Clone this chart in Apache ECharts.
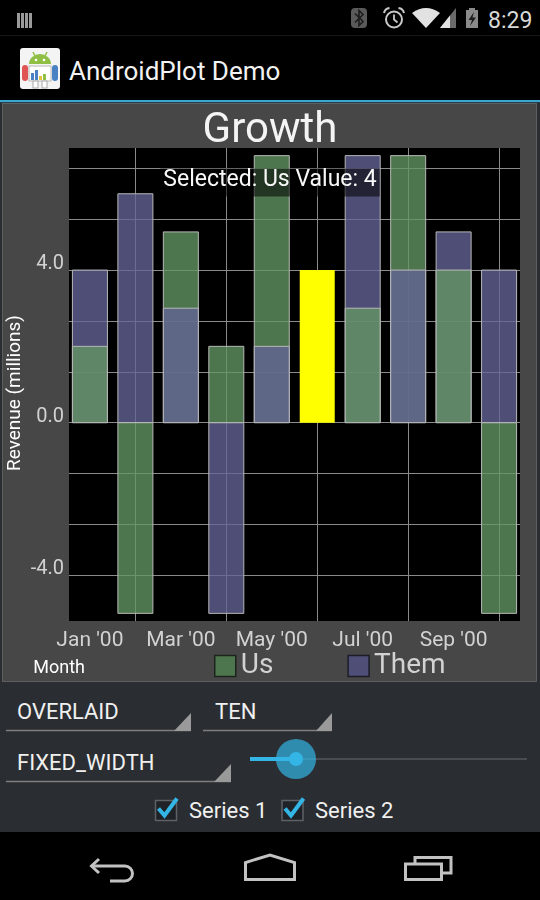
<!DOCTYPE html>
<html>
<head>
<meta charset="utf-8">
<script src="https://cdn.jsdelivr.net/npm/echarts@6/dist/echarts.min.js"></script>
<style>
html,body{margin:0;padding:0;background:#000;width:540px;height:900px;overflow:hidden;font-family:Roboto,'Noto Sans',sans-serif;}
#chrome{position:absolute;left:0;top:0;z-index:1;}
#chart{position:absolute;left:0;top:0;width:540px;height:900px;z-index:2;}
</style>
</head>
<body>
<svg id="chrome" width="540" height="900" xmlns="http://www.w3.org/2000/svg" font-family="Roboto, 'Noto Sans', sans-serif">
  <!-- status bar -->
  <rect x="0" y="0" width="540" height="100" fill="#000"/>
  <g fill="#9a9a9a">
    <rect x="17" y="13" width="3" height="15"/>
    <rect x="21" y="13" width="3" height="15"/>
    <rect x="25" y="13" width="3" height="15"/>
    <rect x="29" y="13" width="3" height="15"/>
  </g>
  <line x1="0" y1="35.5" x2="540" y2="35.5" stroke="#161616"/>
  <rect x="351" y="8" width="16" height="20" rx="4" fill="#5a5a5a"/>
  <path d="M355 13.5 L363 21.5 L359 25.5 V10.5 L363 14.5 L355 22.5" fill="none" stroke="#1c1c1c" stroke-width="1.6"/>
  <circle cx="394" cy="19.5" r="8" fill="none" stroke="#c8c8c8" stroke-width="2"/>
  <path d="M394 14.5 V19.5 L397.5 22.5" fill="none" stroke="#c8c8c8" stroke-width="1.8"/>
  <path d="M384 13 Q385 8.5 389.5 8" fill="none" stroke="#c8c8c8" stroke-width="2"/>
  <path d="M404 13 Q403 8.5 398.5 8" fill="none" stroke="#c8c8c8" stroke-width="2"/>
  <path d="M426 28 L412 13 Q426 3 440 13 Z" fill="#e2e2e2"/>
  <path d="M440 28 L456 8 V28 Z" fill="#6a6a6a"/>
  <path d="M440 28 L450 15.5 V28 Z" fill="#e2e2e2"/>
  <rect x="466" y="10" width="12" height="18" fill="#8a8a8a"/>
  <rect x="469" y="8" width="6" height="2" fill="#8a8a8a"/>
  <path d="M474 12 L468.5 20 H472 L470 26 L476 17.5 H472.5 Z" fill="#1e1e1e"/>
  <text x="488" y="27.5" font-size="23" fill="#d8d8d8">8:29</text>

  <!-- action bar -->
  <g transform="translate(20,48)">
    <rect x="0" y="0" width="40" height="41" rx="3" fill="#f4f4f4"/>
    <path d="M9 16 A11 10 0 0 1 31 16 Z" fill="#8fc045"/>
    <line x1="13" y1="4" x2="15" y2="8" stroke="#8fc045" stroke-width="1.5"/>
    <line x1="27" y1="4" x2="25" y2="8" stroke="#8fc045" stroke-width="1.5"/>
    <circle cx="16" cy="12" r="1.3" fill="#fff"/>
    <circle cx="24" cy="12" r="1.3" fill="#fff"/>
    <rect x="2" y="17" width="6" height="16" rx="3" fill="#e05454"/>
    <rect x="32" y="17" width="6" height="16" rx="3" fill="#4a80c4"/>
    <rect x="9" y="18" width="22" height="15" fill="#fff" stroke="#b8b8b8"/>
    <rect x="11" y="25" width="3" height="7" fill="#4a80c4"/>
    <rect x="15" y="22" width="3" height="10" fill="#4a80c4"/>
    <rect x="19" y="28" width="3" height="4" fill="#e8c040"/>
    <rect x="23" y="26" width="3" height="6" fill="#8fc045"/>
    <rect x="13" y="33" width="5" height="7" fill="#fff" stroke="#aaa"/>
    <rect x="22" y="33" width="5" height="7" fill="#fff" stroke="#aaa"/>
  </g>
  <text x="69" y="80" font-size="26" fill="#f2f2f2">AndroidPlot Demo</text>
  <rect x="0" y="100" width="540" height="2.5" fill="#3ca6cf"/>

  <!-- content background -->
  <rect x="0" y="102.5" width="540" height="729.5" fill="#2a2d31"/>
  <rect x="2.5" y="103.5" width="534" height="578" fill="#474747" stroke="#5e5e5e" stroke-width="1"/>

  <!-- controls -->
  <g font-size="22" fill="#f0f0f0">
    <text x="17" y="719">OVERLAID</text>
    <text x="215" y="719">TEN</text>
    <text x="17" y="770">FIXED_WIDTH</text>
    <text x="189" y="818">Series 1</text>
    <text x="315" y="818">Series 2</text>
  </g>
  <g stroke="#7e7e7e" stroke-width="1.5">
    <line x1="6" y1="730.5" x2="191" y2="730.5"/>
    <line x1="203" y1="730.5" x2="332" y2="730.5"/>
    <line x1="6" y1="781.5" x2="231" y2="781.5"/>
  </g>
  <g fill="#9a9a9a">
    <polygon points="191,713 191,731 174,731"/>
    <polygon points="332,713 332,731 316,731"/>
    <polygon points="231,764 231,782 214,782"/>
  </g>
  <line x1="296" y1="759" x2="527" y2="759" stroke="#55585c" stroke-width="1.5"/>
  <line x1="250" y1="759" x2="296" y2="759" stroke="#33b5e5" stroke-width="4"/>
  <circle cx="296" cy="759" r="20" fill="rgba(51,181,229,0.7)"/>
  <circle cx="296" cy="759" r="7" fill="#33b5e5"/>
  <rect x="155.5" y="800.5" width="21" height="20" fill="#1f2327" stroke="#5e6266" stroke-width="1.5"/>
  <path d="M158.5 808.5 L164.5 815.5 L177 798.5" fill="none" stroke="#33b5e5" stroke-width="4"/>
  <rect x="282" y="800.5" width="21" height="20" fill="#1f2327" stroke="#5e6266" stroke-width="1.5"/>
  <path d="M285 808.5 L291 815.5 L303.5 798.5" fill="none" stroke="#33b5e5" stroke-width="4"/>

  <!-- nav bar -->
  <rect x="0" y="832" width="540" height="68" fill="#000"/>
  <g fill="none" stroke="#c2c2c2" stroke-width="3">
    <path d="M99 859 L91.5 866 L99 873"/>
    <path d="M91.5 866 H125 A7.5 7.5 0 0 1 125 881 H110"/>
    <path d="M245.5 879.5 V862.5 L270 855 L294.5 862.5 V879.5 Z"/>
    <path d="M415 863 V857.5 H451 V873 H442"/>
    <rect x="405.5" y="864" width="36" height="15.5"/>
  </g>
</svg>
<div id="chart"></div>
<script>
// ---- data ----
const months = ["Jan '00", "Feb '00", "Mar '00", "Apr '00", "May '00", "Jun '00", "Jul '00", "Aug '00", "Sep '00", "Oct '00"];
const seriesNames = ["Us", "Them"];
const usValues = [2, -5, 5, 2, 7, 4, 3, 7, 4, -5];
const themValues = [4, 6, 3, -5, 2, null, 7, 4, 5, 4];
const rangeLabelValues = [-4, 0, 4];
const rangeGridValues = [-4, -8 / 3, -4 / 3, 0, 4 / 3, 8 / 3, 4, 16 / 3, 20 / 3];
const domainLabelIndex = [0, 2, 4, 6, 8];
const domainGridIndex = [1, 3, 5, 7, 9];
const selectedSeries = 0;
const selectedIndex = 5;
const chartTitle = "Growth";
const rangeTitle = "Revenue (millions)";
const domainTitle = "Month";

// ---- styles ----
const FONT = "Roboto";
const BAR_W = 35;
const US_FILL = "rgba(100,150,100,0.784)";
const THEM_FILL = "rgba(100,100,150,0.784)";
const BAR_BORDER = "#b8b8b8";
const SELECT_FILL = "#ffff00";
const LABEL_COLOR = "#d2d2d2";

const allSeries = [usValues, themValues];
const selectedText = "Selected: " + seriesNames[selectedSeries] + " Value: " + allSeries[selectedSeries][selectedIndex];

function barRenderer(seriesIdx, fill) {
  return function (params, api) {
    const v = api.value(1);
    if (v === null || v === undefined || isNaN(v)) return null;
    const i = api.value(0);
    const p0 = api.coord([i, 0]);
    const p1 = api.coord([i, v]);
    const sel = seriesIdx === selectedSeries && i === selectedIndex;
    return {
      type: "rect",
      shape: { x: p0[0] - BAR_W / 2, y: Math.min(p0[1], p1[1]), width: BAR_W, height: Math.abs(p1[1] - p0[1]) },
      style: { fill: sel ? SELECT_FILL : fill, stroke: sel ? null : BAR_BORDER, lineWidth: 1 },
      z2: sel ? 1000 : Math.round(500 - Math.abs(v) * 10)
    };
  };
}

const chart = echarts.init(document.getElementById("chart"), null, { renderer: "canvas" });
chart.setOption({
  animation: false,
  backgroundColor: "transparent",
  textStyle: { fontFamily: FONT },
  title: [
    {
      text: chartTitle, left: "center", top: 110, padding: 0,
      textStyle: { fontFamily: FONT, fontSize: 42, fontWeight: "normal", color: "#f4f4f4", lineHeight: 42 }
    },
    {
      text: selectedText, left: "center", top: 169, padding: [0, 3, 5, 3],
      backgroundColor: "rgba(0,0,0,0.55)",
      textStyle: { fontFamily: FONT, fontSize: 23, fontWeight: "normal", color: "#f8f8f8", lineHeight: 22 }
    }
  ],
  legend: {
    data: [
      { name: seriesNames[0], itemStyle: { color: "#4e764e", borderColor: "#1c241c", borderWidth: 1.5 } },
      { name: seriesNames[1], itemStyle: { color: "#4e4e76", borderColor: "#1c1c28", borderWidth: 1.5 } }
    ],
    left: 214, top: 652, padding: 0, icon: "rect", itemWidth: 21, itemHeight: 21, itemGap: 74,
    selectedMode: false,
    textStyle: { fontFamily: FONT, fontSize: 28, color: LABEL_COLOR, lineHeight: 28 }
  },
  grid: {
    left: 69, top: 148, width: 451, height: 473,
    containLabel: false, outerBoundsMode: "none",
    show: true, backgroundColor: "#000", borderWidth: 0
  },
  xAxis: {
    type: "value", min: -0.46, max: 9.46,
    axisLine: { show: false, onZero: false }, axisTick: { show: false }, splitLine: { show: false },
    axisLabel: {
      customValues: domainLabelIndex,
      formatter: function (v) { return months[Math.round(v)]; },
      fontFamily: FONT, fontSize: 21, color: LABEL_COLOR, margin: 9, lineHeight: 21
    },
    name: domainTitle, nameLocation: "start", nameGap: -16, nameMoveOverlap: false,
    nameTextStyle: { fontFamily: FONT, fontSize: 18, color: "#ffffff", lineHeight: 95, verticalAlign: "top" }
  },
  yAxis: {
    type: "value", min: -5.2, max: 7.2,
    axisLine: { show: false, onZero: false }, axisTick: { show: false }, splitLine: { show: false },
    axisLabel: {
      customValues: rangeLabelValues,
      formatter: function (v) { return v.toFixed(1); },
      fontFamily: FONT, fontSize: 20, color: LABEL_COLOR, margin: 5, lineHeight: 12, verticalAlign: "bottom"
    },
    name: rangeTitle, nameLocation: "middle", nameRotate: 90, nameGap: 44, nameMoveOverlap: false,
    nameTextStyle: { fontFamily: FONT, fontSize: 19, color: "#ffffff", lineHeight: 19, padding: [0, 17, 0, 0] }
  },
  series: [
    {
      name: "grid", type: "line", data: [], silent: true, z: 1,
      markLine: {
        silent: true, z: 1, symbol: ["none", "none"], label: { show: false },
        lineStyle: { color: "#8a8a8a", width: 1, type: "solid" },
        emphasis: { disabled: true },
        data: rangeGridValues.map(function (v) { return { yAxis: v }; })
          .concat(domainGridIndex.map(function (i) { return { xAxis: i }; }))
      }
    },
    {
      name: seriesNames[0], type: "custom", z: 2,
      itemStyle: { color: US_FILL },
      encode: { x: 0, y: 1 },
      data: usValues.map(function (v, i) { return [i, v]; }),
      renderItem: barRenderer(0, US_FILL)
    },
    {
      name: seriesNames[1], type: "custom", z: 2,
      itemStyle: { color: THEM_FILL },
      encode: { x: 0, y: 1 },
      data: themValues.map(function (v, i) { return [i, v]; }),
      renderItem: barRenderer(1, THEM_FILL)
    }
  ]
});
</script>
</body>
</html>
